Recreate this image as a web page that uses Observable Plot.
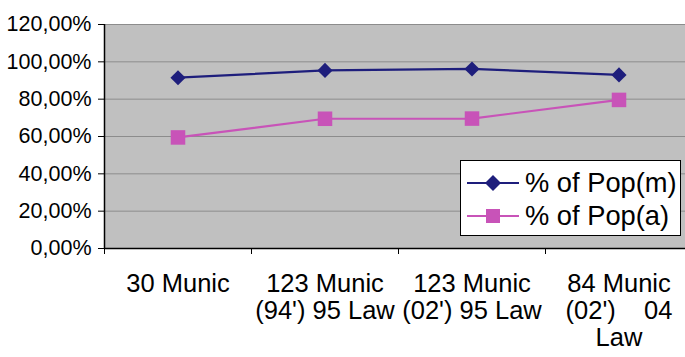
<!DOCTYPE html>
<html>
<head>
<meta charset="utf-8">
<script src="https://cdn.jsdelivr.net/npm/d3@7"></script>
<script src="https://cdn.jsdelivr.net/npm/@observablehq/plot@0.6"></script>
<style>
  body { margin: 0; background: #fff; }
  #wrap { position: relative; width: 685px; height: 357px; overflow: hidden; font-family: "Liberation Sans", Arial, sans-serif; }
  #legend {
    position: absolute; left: 460px; top: 160px; width: 219px; height: 74px;
    background: #fff; border: 1px solid #000; box-sizing: content-box;
  }
  #legend .row { position: absolute; left: 6px; height: 32px; display: flex; align-items: center; font-size: 27.3px; color: #000; white-space: nowrap; }
  #legend svg { margin-right: 6px; }
</style>
</head>
<body>
<div id="wrap"></div>
<script>
// Municipal groups along the x axis
const categories = [
  "30 Munic",
  "123 Munic\n(94') 95 Law",
  "123 Munic\n(02') 95 Law",
  "84 Munic\n(02')\u00a0\u00a0\u00a0 04\nLaw"
];
// Shares of population, in percent
const popM = [91.5, 95.4, 96.2, 93.0];
const popA = [59.5, 69.5, 69.6, 79.6];
const seriesNames = ["% of Pop(m)", "% of Pop(a)"];
const yTicks = [0, 20, 40, 60, 80, 100, 120];

const navy = "#1e1e7c";
const pink = "#c853b8";

const rows = categories.flatMap((c, i) => [
  {i, series: seriesNames[0], value: popM[i]},
  {i, series: seriesNames[1], value: popA[i]}
]);
const mRows = rows.filter(d => d.series === seriesNames[0]);
const aRows = rows.filter(d => d.series === seriesNames[1]);

const pct = d => d.toFixed(2).replace(".", ",") + "%";
const boundaries = d3.range(categories.length + 1);
const centers = categories.map((c, i) => i + 0.5);

const chart = Plot.plot({
  width: 685,
  height: 357,
  marginLeft: 104,
  marginRight: -7,
  marginTop: 24,
  marginBottom: 109,
  style: {fontFamily: "Liberation Sans, Arial, sans-serif", fontSize: "21px", color: "#000", background: "#fff"},
  x: {type: "linear", domain: [0, categories.length], label: null},
  y: {domain: [0, 120], label: null},
  marks: [
    Plot.frame({fill: "#c0c0c0", stroke: null}),
    Plot.gridY(yTicks, {stroke: "#8c8c8c", strokeOpacity: 1, strokeWidth: 1}),
    Plot.axisY(yTicks, {tickFormat: pct, tickSize: 6, tickPadding: 7, fontSize: 21.5, stroke: "#000", label: null}),
    Plot.axisX(boundaries, {tickFormat: () => "", tickSize: 6, stroke: "#000", label: null}),
    Plot.axisX(centers, {
      tickSize: 0, tickPadding: 24, fontSize: 25.5, lineHeight: 1.06, label: null,
      tickFormat: d => categories[Math.floor(d)]
    }),
    Plot.ruleY([0], {stroke: "#000", strokeWidth: 1.5}),
    Plot.ruleX([0], {stroke: "#000", strokeWidth: 1.5}),
    Plot.line(mRows, {x: d => d.i + 0.5, y: "value", stroke: navy, strokeWidth: 2.2}),
    Plot.line(aRows, {x: d => d.i + 0.5, y: "value", stroke: pink, strokeWidth: 2.2}),
    Plot.dot(mRows, {x: d => d.i + 0.5, y: "value", symbol: "diamond2", r: 6.8, fill: navy, stroke: null}),
    Plot.dot(aRows, {x: d => d.i + 0.5, y: "value", symbol: "square", r: 8.2, fill: pink, stroke: null})
  ]
});

const wrap = document.getElementById("wrap");
wrap.appendChild(chart);

// Legend box drawn over the plot area
const legend = document.createElement("div");
legend.id = "legend";
const entries = [
  {name: seriesNames[0], color: navy, shape: "diamond"},
  {name: seriesNames[1], color: pink, shape: "square"}
];
entries.forEach((e, k) => {
  const row = document.createElement("div");
  row.className = "row";
  row.style.top = (6 + k * 33) + "px";
  const marker = e.shape === "diamond"
    ? `<polygon points="26,1 34,9 26,17 18,9" fill="${e.color}"/>`
    : `<rect x="19" y="2" width="14" height="14" fill="${e.color}"/>`;
  row.innerHTML = `<svg width="52" height="18"><line x1="0" x2="52" y1="9" y2="9" stroke="${e.color}" stroke-width="2.2"/>${marker}</svg><span>${e.name}</span>`;
  legend.appendChild(row);
});
wrap.appendChild(legend);
</script>
</body>
</html>
